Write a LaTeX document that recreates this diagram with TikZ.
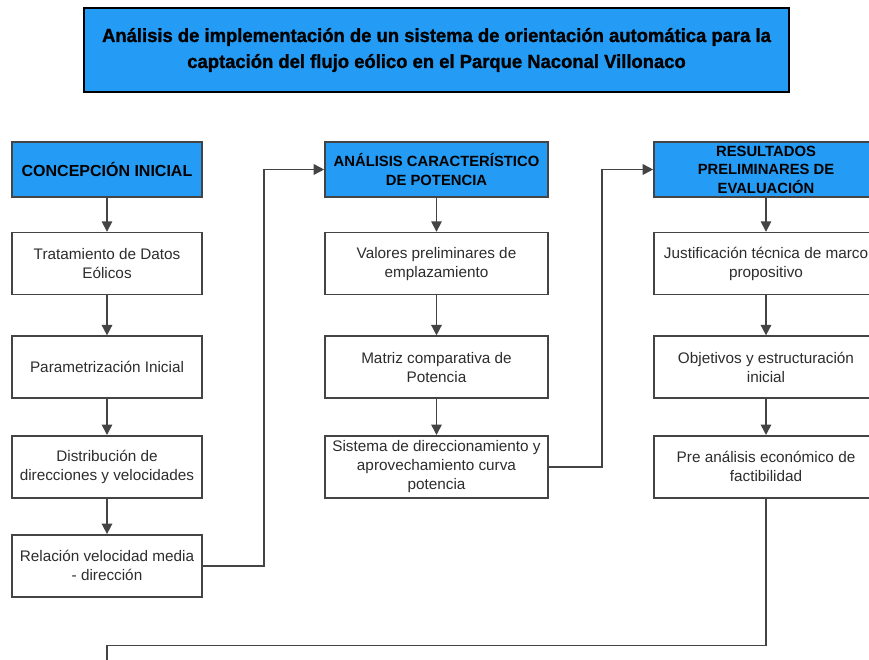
\documentclass[tikz,border=0pt]{standalone}
\usepackage{fontspec}
\setmainfont{Liberation Sans}
\newfontfamily\titlefont[FakeStretch=0.97,BoldFeatures={FakeBold=1.2}]{Liberation Sans}
\usetikzlibrary{positioning,arrows.meta}
\definecolor{headblue}{RGB}{36,155,245}
\definecolor{linegray}{RGB}{68,68,68}
\definecolor{textgray}{RGB}{45,45,45}

\begin{document}
\begin{tikzpicture}[x=1pt,y=-1pt,
        box/.style={draw=linegray,line width=1.6pt,fill=white,align=center,
                    text=textgray,font=\fontsize{15.3}{19}\selectfont,
                    minimum height=62pt,inner sep=2pt},
        head/.style={box,fill=headblue,text=black,
                     font=\fontsize{14.8}{18.5}\selectfont\bfseries,
                     minimum height=55pt,inner ysep=0pt},
        arr/.style={-{Triangle[length=10.5pt,width=10.5pt]},draw=linegray,line width=1.6pt},
        line/.style={draw=linegray,line width=1.6pt}]
        \useasboundingbox (0,0) rectangle (869,660);
        \clip (0,0) rectangle (869,660);
        \fill[white] (0,0) rectangle (869,660);
        \node[draw=black,line width=2pt,fill=headblue,minimum width=705pt,
              minimum height=84pt,align=center,
              font=\titlefont\fontsize{19}{26}\selectfont\bfseries] (title) at (436.5,50)
            {Análisis de implementación de un sistema de orientación automática para la\\
             captación del flujo eólico en el Parque Naconal Villonaco};
        % primera columna
        \node[head,minimum width=190pt,font=\fontsize{16}{18.5}\selectfont\bfseries] (conc) at (107,169.5) {CONCEPCIÓN INICIAL};
        \node[box,minimum width=190pt,below=34pt of conc] (trat) {Tratamiento de Datos\\Eólicos};
        \node[box,minimum width=190pt,below=40pt of trat] (param) {Parametrización Inicial};
        \node[box,minimum width=190pt,below=36pt of param] (dist) {Distribución de\\direcciones y velocidades};
        \node[box,minimum width=190pt,below=35.5pt of dist] (rel) {Relación velocidad media\\- dirección};
        % segunda columna
        \node[head,minimum width=223pt] (anal) at (436.5,169.5) {ANÁLISIS CARACTERÍSTICO\\DE POTENCIA};
        \node[box,minimum width=223pt,below=34pt of anal] (val) {Valores preliminares de\\emplazamiento};
        \node[box,minimum width=223pt,below=40pt of val] (matr) {Matriz comparativa de\\Potencia};
        \node[box,minimum width=223pt,below=36pt of matr] (sist) {Sistema de direccionamiento y\\aprovechamiento curva\\potencia};
        % tercera columna
        \node[head,minimum width=224pt] (res) at (766,169.5) {RESULTADOS\\PRELIMINARES DE\\EVALUACIÓN};
        \node[box,minimum width=224pt,below=34pt of res] (just) {Justificación técnica de marco\\propositivo};
        \node[box,minimum width=224pt,below=40pt of just] (obj) {Objetivos y estructuración\\inicial};
        \node[box,minimum width=224pt,below=36pt of obj] (pre) {Pre análisis económico de\\factibilidad};
        \coordinate (cont) at (107,690);
        % flechas
        \draw[arr] (conc) -- (trat);
        \draw[arr] (trat) -- (param);
        \draw[arr] (param) -- (dist);
        \draw[arr] (dist) -- (rel);
        \draw[arr] (anal) -- (val);
        \draw[arr] (val) -- (matr);
        \draw[arr] (matr) -- (sist);
        \draw[arr] (res) -- (just);
        \draw[arr] (just) -- (obj);
        \draw[arr] (obj) -- (pre);
        \draw[arr] (rel.east) -- ++(61,0) |- (anal.west);
        \draw[arr] (sist.east) -- ++(53,0) |- (res.west);
        \draw[line] (pre.south) -- ++(0,147) -| (cont);
    \end{tikzpicture}
\end{document}
